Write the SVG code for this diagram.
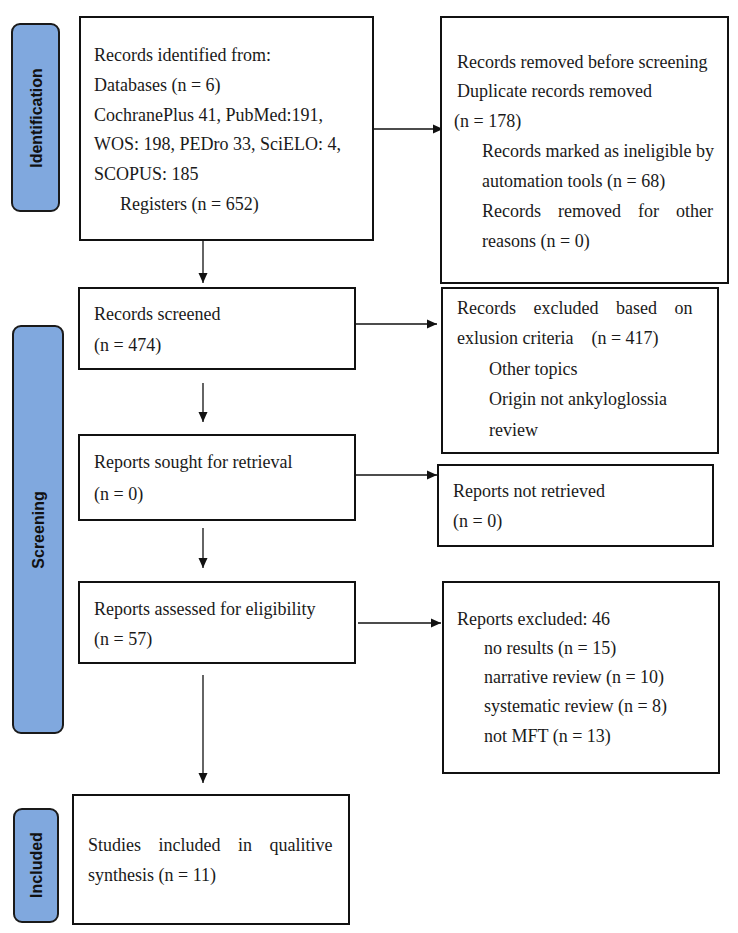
<svg xmlns="http://www.w3.org/2000/svg" width="738" height="933" viewBox="0 0 738 933">
<style>
.box{fill:#fff;stroke:#111;stroke-width:2}
.pill{fill:#80A8DE;stroke:#1a1a1a;stroke-width:2}
.t{font-family:"Liberation Serif","Times New Roman",serif;font-size:18px;fill:#1a1a1a}
.lab{font-family:"Liberation Sans",Arial,sans-serif;font-size:16px;font-weight:bold;fill:#111;text-anchor:middle;dominant-baseline:central}
.con line{stroke:#111;stroke-width:1.3;marker-end:url(#ah)}
</style>
<defs>
<marker id="ah" markerUnits="userSpaceOnUse" markerWidth="10" markerHeight="10" refX="10" refY="5" orient="auto">
<path d="M0,0.5 L10,5 L0,9.5 z" fill="#111"/>
</marker>
</defs>
<rect width="738" height="933" fill="#fff"/>

<g id="phase-identification">
<rect class="pill" x="12" y="24" width="47" height="187" rx="8"/>
<text class="lab" transform="translate(36,118) rotate(-90)">Identification</text>
</g>
<g id="phase-screening">
<rect class="pill" x="13" y="326" width="50" height="407" rx="8"/>
<text class="lab" transform="translate(38,530) rotate(-90)">Screening</text>
</g>
<g id="phase-included">
<rect class="pill" x="14" y="809" width="44" height="113" rx="8"/>
<text class="lab" transform="translate(36,865) rotate(-90)">Included</text>
</g>

<g class="con" id="connectors">
<line x1="363" y1="129" x2="443" y2="129"/>
<line x1="203" y1="240" x2="203" y2="283"/>
<line x1="355" y1="324" x2="437" y2="324"/>
<line x1="203" y1="383" x2="203" y2="422"/>
<line x1="355" y1="475" x2="437" y2="475"/>
<line x1="203" y1="528" x2="203" y2="568"/>
<line x1="358" y1="623" x2="441" y2="623"/>
<line x1="203" y1="675" x2="203" y2="783"/>
</g>

<g id="records-identified">
<rect class="box" x="80" y="17" width="293" height="223"/>
<text class="t" x="94" y="61">Records identified from:</text>
<text class="t" x="94" y="91">Databases (n = 6)</text>
<text class="t" x="94" y="121">CochranePlus 41, PubMed:191,</text>
<text class="t" x="94" y="150">WOS: 198, PEDro 33, SciELO: 4,</text>
<text class="t" x="94" y="180">SCOPUS: 185</text>
<text class="t" x="120" y="210">Registers (n = 652)</text>
</g>

<g id="records-removed">
<rect class="box" x="441" y="17" width="287" height="266"/>
<text class="t" x="457" y="68">Records removed before screening</text>
<text class="t" x="457" y="97">Duplicate records removed</text>
<text class="t" x="454" y="127">(n = 178)</text>
<text class="t" x="482" y="157">Records marked as ineligible by</text>
<text class="t" x="482" y="187">automation tools (n = 68)</text>
<text class="t" x="482" y="217" word-spacing="12.5">Records removed for other</text>
<text class="t" x="482" y="247">reasons (n = 0)</text>
</g>

<g id="records-screened">
<rect class="box" x="79" y="288" width="276" height="81"/>
<text class="t" x="94" y="320">Records screened</text>
<text class="t" x="94" y="351">(n = 474)</text>
</g>

<g id="records-excluded">
<rect class="box" x="442" y="288" width="276" height="165"/>
<text class="t" x="457" y="314" word-spacing="13">Records excluded based on</text>
<text class="t" x="457" y="344" xml:space="preserve">exlusion criteria    (n = 417)</text>
<text class="t" x="489" y="375">Other topics</text>
<text class="t" x="489" y="405">Origin not ankyloglossia</text>
<text class="t" x="489" y="436">review</text>
</g>

<g id="reports-sought">
<rect class="box" x="79" y="435" width="276" height="85"/>
<text class="t" x="94" y="468">Reports sought for retrieval</text>
<text class="t" x="94" y="500">(n = 0)</text>
</g>

<g id="reports-not-retrieved">
<rect class="box" x="438" y="465" width="275" height="81"/>
<text class="t" x="453" y="497">Reports not retrieved</text>
<text class="t" x="453" y="527">(n = 0)</text>
</g>

<g id="reports-assessed">
<rect class="box" x="79" y="582" width="276" height="81"/>
<text class="t" x="94" y="615">Reports assessed for eligibility</text>
<text class="t" x="94" y="645">(n = 57)</text>
</g>

<g id="reports-excluded">
<rect class="box" x="443" y="582" width="276" height="191"/>
<text class="t" x="457" y="625">Reports excluded: 46</text>
<text class="t" x="484" y="654">no results (n = 15)</text>
<text class="t" x="484" y="683">narrative review (n = 10)</text>
<text class="t" x="484" y="712">systematic review (n = 8)</text>
<text class="t" x="484" y="742">not MFT (n = 13)</text>
</g>

<g id="studies-included">
<rect class="box" x="73" y="795" width="276" height="129"/>
<text class="t" x="88" y="851" word-spacing="13">Studies included in qualitive</text>
<text class="t" x="88" y="881">synthesis (n = 11)</text>
</g>
</svg>
